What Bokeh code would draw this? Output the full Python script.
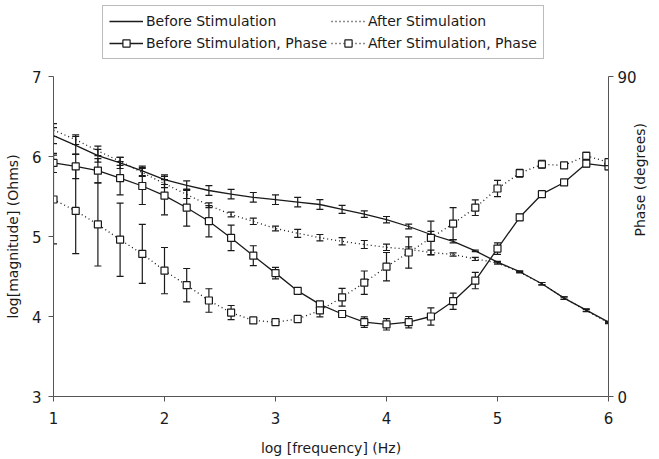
import math
from bokeh.plotting import figure
from bokeh.layouts import column
from bokeh.models import (ColumnDataSource, Range1d, LinearAxis, FixedTicker,
                          Whisker, TeeHead, Legend, LegendItem)
from bokeh.embed import file_html
from bokeh.resources import INLINE

# ---- data ----
log_freq = [1.0, 1.2, 1.4, 1.6, 1.8, 2.0, 2.2, 2.4, 2.6, 2.8, 3.0, 3.2, 3.4,
            3.6, 3.8, 4.0, 4.2, 4.4, 4.6, 4.8, 5.0, 5.2, 5.4, 5.6, 5.8, 6.0]

mag_before = [6.26, 6.14, 6.01, 5.92, 5.82, 5.71, 5.64, 5.575, 5.53, 5.49, 5.46, 5.43, 5.40,
              5.34, 5.28, 5.21, 5.125, 5.025, 4.94, 4.82, 4.68, 4.56, 4.41, 4.23, 4.08, 3.93]
mag_before_err = [0.10, 0.11, 0.08, 0.07, 0.06, 0.06, 0.055, 0.06, 0.06, 0.06, 0.06, 0.06, 0.06,
                  0.05, 0.04, 0.04, 0.03, 0.04, 0.02, 0.01, 0.01, 0.01, 0.015, 0.015, 0.015, 0.01]

mag_after = [6.33, 6.21, 6.07, 5.94, 5.80, 5.66, 5.525, 5.39, 5.275, 5.19, 5.10, 5.04, 4.985,
             4.94, 4.90, 4.865, 4.84, 4.80, 4.775, 4.72, 4.67, 4.555, 4.41, 4.23, 4.075, 3.92]
mag_after_err = [0.08, 0.06, 0.06, 0.05, 0.05, 0.05, 0.05, 0.03, 0.03, 0.04, 0.03, 0.05, 0.04,
                 0.045, 0.05, 0.04, 0.03, 0.03, 0.02, 0.02, 0.015, 0.01, 0.015, 0.015, 0.015, 0.01]

phase_before = [65.7, 64.7, 63.5, 61.4, 59.2, 56.5, 53.1, 49.3, 44.6, 39.6, 34.7, 29.7, 25.9,
                23.2, 20.9, 20.3, 20.9, 22.5, 26.8, 32.6, 41.6, 50.4, 56.9, 60.2, 65.5, 64.7]
phase_before_err = [2.7, 3.4, 3.4, 4.7, 5.2, 5.4, 5.2, 4.4, 3.6, 2.8, 1.6, 0.9, 0.8,
                    0.8, 1.5, 1.6, 1.6, 2.4, 2.3, 2.3, 1.6, 0.9, 0.7, 0.7, 0.9, 0.9]

phase_after = [55.4, 52.2, 48.4, 44.1, 40.1, 35.4, 31.3, 27.0, 23.6, 21.4, 20.9, 21.8, 24.2,
               27.9, 32.0, 36.5, 40.5, 44.6, 48.6, 53.1, 58.5, 62.8, 65.3, 65.0, 67.7, 65.9]
phase_after_err = [12.5, 12.0, 11.7, 10.3, 8.3, 6.5, 4.7, 3.3, 2.0, 0.8, 0.6, 1.0, 1.8,
                   2.5, 3.3, 4.0, 4.4, 4.7, 4.5, 2.2, 2.3, 1.1, 1.1, 0.6, 1.0, 0.8]

x_ticks = [1, 2, 3, 4, 5, 6]
mag_ticks = [3, 4, 5, 6, 7]
phase_ticks = [0, 90]

legend_labels = ["Before Stimulation", "After Stimulation",
                 "Before Stimulation, Phase", "After Stimulation, Phase"]


def src(vals, errs):
    return ColumnDataSource(dict(
        x=log_freq, y=vals,
        upper=[v + e for v, e in zip(vals, errs)],
        lower=[v - e for v, e in zip(vals, errs)]))


FONT = "DejaVu Sans"
INK = "#1a1a1a"

p = figure(width=659, height=393, output_backend="svg", toolbar_location=None,
           x_range=Range1d(1, 6), y_range=Range1d(3, 7),
           min_border_left=53, min_border_right=51, min_border_top=10,
           min_border_bottom=63)
p.extra_y_ranges = {"phase": Range1d(0, 90)}
p.outline_line_color = None
p.xgrid.visible = False
p.ygrid.visible = False
p.background_fill_color = "white"
p.border_fill_color = "white"

for ax in (p.xaxis[0], p.yaxis[0]):
    ax.major_label_text_font = FONT
    ax.major_label_text_font_size = "15px"
    ax.major_label_text_color = INK
    ax.axis_label_text_font = FONT
    ax.axis_label_text_font_size = "14px"
    ax.axis_label_text_font_style = "normal"
    ax.axis_label_text_color = INK
    ax.axis_line_color = "#555555"
    ax.major_tick_line_color = "#555555"
    ax.major_tick_out = 5
    ax.major_tick_in = 0
    ax.minor_tick_line_color = None

p.xaxis.ticker = FixedTicker(ticks=x_ticks)
p.yaxis.ticker = FixedTicker(ticks=mag_ticks)
p.xaxis.axis_label = "log [frequency] (Hz)"
p.yaxis.axis_label = "log[magnitude] (Ohms)"
p.xaxis.major_label_standoff = 10
p.xaxis.axis_label_standoff = 13
p.yaxis.major_label_standoff = 7
p.yaxis.axis_label_standoff = 8

rax = LinearAxis(y_range_name="phase", ticker=FixedTicker(ticks=phase_ticks),
                 axis_label="Phase (degrees)")
rax.major_label_text_font = FONT
rax.major_label_text_font_size = "15px"
rax.major_label_text_color = INK
rax.axis_label_text_font = FONT
rax.axis_label_text_font_size = "14px"
rax.axis_label_text_font_style = "normal"
rax.axis_label_text_color = INK
rax.axis_label_standoff = 0
rax.axis_line_color = "#555555"
rax.major_tick_line_color = "#555555"
rax.major_tick_out = 5
rax.major_tick_in = 0
rax.minor_tick_line_color = None
rax.major_label_standoff = 4
if "axis_label_orientation" in rax.properties():
    rax.axis_label_orientation = math.pi / 2
p.add_layout(rax, "right")

# sources
s_mb = src(mag_before, mag_before_err)
s_ma = src(mag_after, mag_after_err)
s_pb = src(phase_before, phase_before_err)
s_pa = src(phase_after, phase_after_err)

# error bars
for s, rng in ((s_mb, "default"), (s_ma, "default"), (s_pb, "phase"), (s_pa, "phase")):
    w = Whisker(source=s, base="x", upper="upper", lower="lower",
                y_range_name=rng, line_color=INK, line_width=1.2,
                upper_head=TeeHead(size=7, line_color=INK, line_width=1.2),
                lower_head=TeeHead(size=7, line_color=INK, line_width=1.2))
    p.add_layout(w)

# lines
p.line("x", "y", source=s_mb, line_color=INK, line_width=1.3)
p.line("x", "y", source=s_ma, line_color=INK, line_width=1.3, line_dash="1 3")
p.line("x", "y", source=s_pb, line_color=INK, line_width=1.3, y_range_name="phase")
p.line("x", "y", source=s_pa, line_color=INK, line_width=1.3, line_dash="1 3",
       y_range_name="phase")
p.scatter("x", "y", source=s_pb, marker="square", size=7, fill_color="white",
          line_color=INK, line_width=1.2, y_range_name="phase")
p.scatter("x", "y", source=s_pa, marker="square", size=7, fill_color="white",
          line_color=INK, line_width=1.2, y_range_name="phase")

# ---- legend strip above the chart (legend-only renderers, drawn off-range) ----
lf = figure(width=659, height=66, output_backend="svg", toolbar_location=None,
            min_border=0, x_range=Range1d(0, 1), y_range=Range1d(0, 1))
lf.axis.visible = False
lf.grid.visible = False
lf.outline_line_color = None
lf.background_fill_color = "white"
lf.border_fill_color = "white"


def off():
    return ColumnDataSource(dict(x=[-5.0], y=[-5.0]))


g1 = lf.line("x", "y", source=off(), line_color=INK, line_width=1.3)
g2 = lf.line("x", "y", source=off(), line_color=INK, line_width=1.3, line_dash="1 3")
g3 = lf.line("x", "y", source=off(), line_color=INK, line_width=1.3)
g3m = lf.scatter("x", "y", source=off(), marker="square", size=7,
                 fill_color="white", line_color=INK, line_width=1.2)
g4 = lf.line("x", "y", source=off(), line_color=INK, line_width=1.3, line_dash="1 3")
g4m = lf.scatter("x", "y", source=off(), marker="square", size=7,
                 fill_color="white", line_color=INK, line_width=1.2)

legend = Legend(items=[
    LegendItem(label=legend_labels[0], renderers=[g1]),
    LegendItem(label=legend_labels[1], renderers=[g2]),
    LegendItem(label=legend_labels[2], renderers=[g3, g3m]),
    LegendItem(label=legend_labels[3], renderers=[g4, g4m]),
], orientation="horizontal", ncols=2, location=(49, 7),
    label_text_font=FONT, label_text_font_size="14px", label_text_color=INK,
    glyph_width=34, glyph_height=18, label_height=18, label_standoff=3,
    spacing=4, padding=6, margin=0, border_line_color="#777777",
    border_line_width=1, background_fill_color="white", background_fill_alpha=1.0)
lf.add_layout(legend, "center")

layout = column(lf, p, spacing=0)
open("out.html", "w").write(file_html(layout, INLINE))
